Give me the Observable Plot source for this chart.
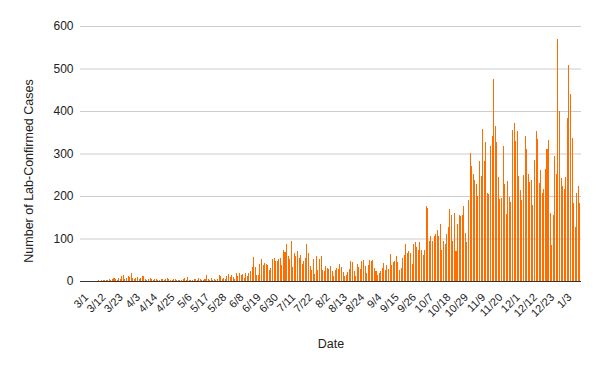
<!DOCTYPE html>
<html>
<head>
<meta charset="utf-8">
<script src="https://cdn.jsdelivr.net/npm/d3@7"></script>
<script src="https://cdn.jsdelivr.net/npm/@observablehq/plot@0.6"></script>
<style>
  html, body { margin: 0; padding: 0; background: #fff; }
</style>
</head>
<body>
<div id="chart"></div>
<script>
// Daily lab-confirmed cases, 3/1/2020 .. 1/13/2021
const startDate = "2020-03-01";
const cases = [
  0,0,0,0,0,0,0,0,1,0, 1,2,1,2,3,2,3,2,5,3,
  5,7,4,3,6,4,12,13,5,7, 11,10,19,8,5,8,9,4,6,11,
  11,5,3,4,6,5,3,4,5,3, 2,4,5,3,5,6,4,3,2,5,
  4,3,2,3,2,4,7,3,9,3, 2,3,5,4,2,7,5,3,2,5,
  14,4,3,7,2,5,3,4,14,11, 5,6,4,11,16,10,14,9,5,19,
  12,20,14,17,8,19,11,19,23,32, 56,32,13,13,41,52,38,42,40,37,
  27,30,52,54,46,46,52,54,38,72, 68,87,59,51,95,34,66,59,70,54,
  62,39,46,53,87,65,35,26,52,16, 59,26,52,59,26,23,35,30,28,35,
  23,12,26,30,28,40,33,21,12,14, 21,28,47,45,23,12,40,33,28,47,
  49,35,19,38,49,47,49,30,23,14, 18,23,30,42,26,38,28,63,38,45,
  47,59,45,26,30,54,61,87,67,70, 67,40,87,91,79,74,91,72,61,72,
  176,171,95,105,95,107,110,119,105,135, 74,93,87,110,127,169,155,93,159,70,
  134,155,154,156,176,114,91,190,302,271, 252,237,229,201,283,246,358,283,327,206,
  204,318,341,475,365,327,245,192,195,318, 229,157,236,197,185,355,372,330,352,248,
  215,191,250,341,311,251,234,237,180,285, 353,334,231,262,208,217,264,311,332,161,
  84,156,295,252,569,400,243,224,217,245, 384,509,440,337,184,128,208,224,184
];
const tickLabels = ["3/1","3/12","3/23","4/3","4/14","4/25","5/6","5/17","5/28","6/8",
  "6/19","6/30","7/11","7/22","8/2","8/13","8/24","9/4","9/15","9/26",
  "10/7","10/18","10/29","11/9","11/20","12/1","12/12","12/23","1/3"];
const yTicks = [0, 100, 200, 300, 400, 500, 600];

const start = new Date(startDate + "T00:00:00Z");
const fmt = d3.utcFormat("%-m/%-d");
const dateLabels = cases.map((_, i) => fmt(d3.utcDay.offset(start, i)));
const data = cases.map((v, i) => ({date: dateLabels[i], value: v}));

const chart = Plot.plot({
  width: 600,
  height: 371,
  marginLeft: 80,
  marginRight: 19,
  marginTop: 26,
  marginBottom: 90,
  style: {fontFamily: "'Liberation Sans', Arial, sans-serif", color: "#222", background: "#fff"},
  x: {type: "band", domain: dateLabels, padding: 0.35},
  y: {domain: [0, 600]},
  marks: [
    Plot.gridY(yTicks, {stroke: "#cccccc", strokeOpacity: 1}),
    Plot.axisY(yTicks, {tickSize: 0, tickPadding: 7, fontSize: 12, label: null, fill: "#222"}),
    Plot.axisX(tickLabels, {tickSize: 0, tickRotate: -45, tickPadding: 14, dx: 5, fontSize: 11, label: null, fill: "#222"}),
    Plot.ruleY([0], {stroke: "#333"}),
    Plot.barY(data, {x: "date", y: "value", fill: "#ff6d01", shapeRendering: "crispEdges"}),
    Plot.text(["Date"], {frameAnchor: "bottom", dy: 66, fontSize: 12.5, fill: "#222"}),
    Plot.text(["Number of Lab-Confirmed Cases"], {frameAnchor: "left", textAnchor: "middle", rotate: -90, dx: -52, dy: 17, fontSize: 12.5, fill: "#222"})
  ]
});
document.getElementById("chart").appendChild(chart);
</script>
</body>
</html>
